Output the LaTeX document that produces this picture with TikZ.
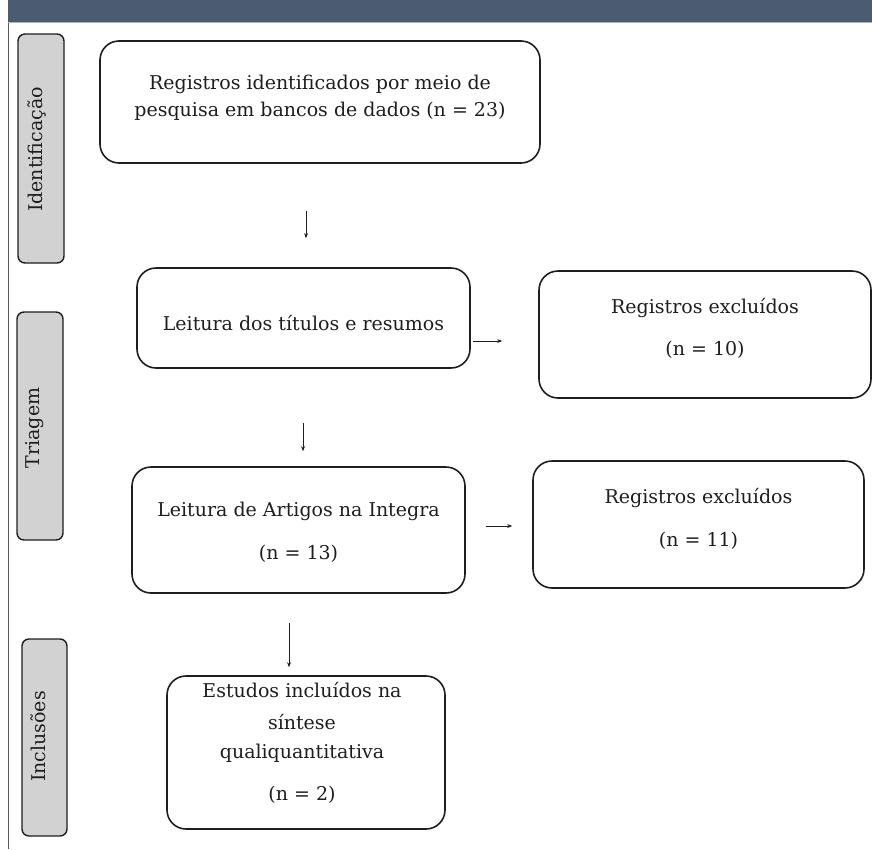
\documentclass[tikz,border=0pt]{standalone}
\usepackage{fontspec}
\setmainfont{DejaVu Serif}
\usetikzlibrary{arrows.meta}
\definecolor{bandcol}{HTML}{4A5B72}
\definecolor{sidefill}{HTML}{D2D2D2}
\definecolor{inkcol}{HTML}{1E1E1E}
\tikzset{
  mainbox/.style={draw=inkcol, line width=1.6pt, rounded corners=19pt, rectangle, inner sep=0pt},
  sidebox/.style={draw=inkcol, fill=sidefill, line width=1.4pt, rounded corners=7pt, rectangle, inner sep=0pt},
  lbl/.style={anchor=base, inner sep=0pt, font=\fontsize{19}{24}\selectfont, text=inkcol},
  sidelbl/.style={anchor=base, rotate=90, inner sep=0pt, font=\fontsize{19}{24}\selectfont, text=inkcol},
  arr/.style={draw=inkcol, line width=0.9pt, -{Stealth[length=5pt,width=4pt]}}
}
\begin{document}
\begin{tikzpicture}[x=1pt,y=-1pt]
\useasboundingbox (0,0) rectangle (872,849);
\fill[bandcol] (8,0) rectangle (872,22);
\draw[black!65, line width=1pt] (8,22) -- (8,849);
\draw[gray!60, line width=0.6pt] (8,22) -- (872,22);

% side labels
\node[sidebox, minimum width=46pt, minimum height=229pt] (sid) at (41,148.5) {};
\node[sidelbl] (sidt) at (42,149.5) {Identificação};
\node[sidebox, minimum width=46pt, minimum height=228pt] (stri) at (40,426) {};
\node[sidelbl] (strit) at (39.5,428) {Triagem};
\node[sidebox, minimum width=45pt, minimum height=197pt] (sinc) at (44.5,737.5) {};
\node[sidelbl] (sinct) at (45,736.5) {Inclusões};

% main boxes
\node[mainbox, minimum width=440pt, minimum height=122pt] (b1) at (320,102) {};
\node[lbl] (b1t1) at (320,89) {Registros identificados por meio de};
\node[lbl] (b1t2) at (320,116) {pesquisa em bancos de dados (n = 23)};

\node[mainbox, minimum width=333pt, minimum height=100pt] (b2) at (303.5,318) {};
\node[lbl] (b2t1) at (303.5,330) {Leitura dos títulos e resumos};

\node[mainbox, minimum width=332pt, minimum height=127pt] (r1) at (705,334.5) {};
\node[lbl] (r1t1) at (705,313) {Registros excluídos};
\node[lbl] (r1t2) at (705,355) {(n = 10)};

\node[mainbox, minimum width=333pt, minimum height=126pt] (b3) at (298.5,530) {};
\node[lbl] (b3t1) at (298.5,516) {Leitura de Artigos na Integra};
\node[lbl] (b3t2) at (298.5,559) {(n = 13)};

\node[mainbox, minimum width=331pt, minimum height=127pt] (r2) at (698.5,524.5) {};
\node[lbl] (r2t1) at (698.5,503) {Registros excluídos};
\node[lbl] (r2t2) at (698.5,546) {(n = 11)};

\node[mainbox, minimum width=278pt, minimum height=153pt] (b4) at (306,752.5) {};
\node[lbl] (b4t1) at (302,697) {Estudos incluídos na};
\node[lbl] (b4t2) at (302,729) {síntese};
\node[lbl] (b4t3) at (302,758) {qualiquantitativa};
\node[lbl] (b4t4) at (302,800) {(n = 2)};

% arrows
\draw[arr, shorten <=47pt, shorten >=29pt] (b1.south -| 306,0) -- (b2.north -| 306,0);
\draw[arr, shorten <=2pt, shorten >=36pt] (b2.east |- 0,341) -- (r1.west |- 0,341);
\draw[arr, shorten <=54pt, shorten >=15pt] (b2.south -| 303,0) -- (b3.north -| 303,0);
\draw[arr, shorten <=20pt, shorten >=20pt] (b3.east |- 0,526) -- (r2.west |- 0,526);
\draw[arr, shorten <=29pt, shorten >=8pt] (b3.south -| 289,0) -- (b4.north -| 289,0);
\end{tikzpicture}
\end{document}
